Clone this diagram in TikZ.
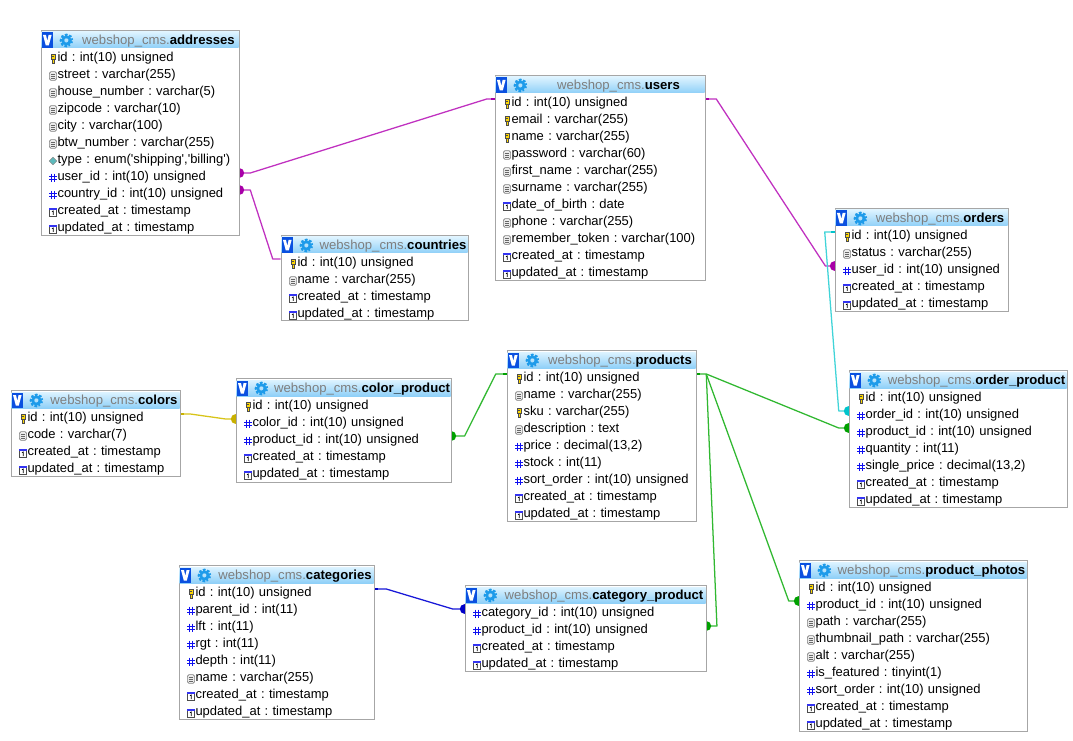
\documentclass[tikz,border=0pt]{standalone}
\usepackage{fontspec}
\setmainfont{Liberation Sans}
\usetikzlibrary{calc}
\pgfdeclarelayer{bg}
\pgfsetlayers{bg,main}
\newdimen\pxu \pxu=0.75pt
\definecolor{bordergrey}{HTML}{A6A6A6}
\definecolor{titlegrey}{HTML}{7E7E7E}
\definecolor{headtop}{HTML}{DDF3FF}
\definecolor{headbot}{HTML}{8FD0F8}
\definecolor{vblue}{HTML}{0A50E0}
\definecolor{gearblue}{HTML}{1E9BEA}
\definecolor{hashblue}{HTML}{1010F0}
\definecolor{cpurple}{HTML}{C030C0}
\definecolor{dpurple}{HTML}{A800A8}
\definecolor{ccyan}{HTML}{40D4D8}
\definecolor{dcyan}{HTML}{00C4CC}
\definecolor{cgreen}{HTML}{30B830}
\definecolor{dgreen}{HTML}{00A000}
\definecolor{cblue}{HTML}{1818D8}
\definecolor{dblue}{HTML}{0000C8}
\definecolor{cyellow}{HTML}{D8C418}
\definecolor{dyellow}{HTML}{C8B000}
\tikzset{
  tablebox/.style={draw=bordergrey,line width=0.9pt,fill=white,rectangle,inner sep=0pt,anchor=north west},
  tabletitle/.style={inner sep=0pt,font=\fontsize{9.85pt}{12pt}\selectfont\frenchspacing},
  rowtext/.style={inner xsep=0pt,inner ysep=0pt,align=left,text height=11pt,text depth=0pt,font=\fontsize{9.72pt}{12pt}\selectfont\frenchspacing},
  link/.style={line width=0.95pt,line join=round},
}
% icons, local coordinates in pixels, origin at the icon centre
\newcommand{\ick}{\fill[yellow!75!orange,draw=black!70,line width=.4pt] (-2,-4.4) rectangle (2,0.6);
  \fill[yellow!75!orange,draw=black!70,line width=.4pt] (-1.1,0.6) rectangle (1.1,4.4);
  \fill[black!70] (-.7,-3) rectangle (.7,-1.8);}
\newcommand{\icd}{\draw[black!50,fill=black!8,line width=.5pt,rounded corners=1.2pt] (-3.6,-4.4) rectangle (3.6,4.4);
  \foreach \yy in {-2.1,0,2.1}{\draw[black!60,line width=.45pt] (-2.3,\yy) -- (2.3,\yy);}}
\newcommand{\ich}{\draw[hashblue,line width=.8pt] (-3.8,-1.7) -- (3.8,-1.7) (-3.8,1.7) -- (3.8,1.7) (-1.7,-4.4) -- (-1.7,4.4) (1.7,-4.4) -- (1.7,4.4);}
\newcommand{\ict}{\fill[white,draw=black!70,line width=.4pt] (-3.4,-3.8) rectangle (3.4,4.2);
  \fill[hashblue!85!white] (-3.7,-4.4) rectangle (3.7,-2.2);
  \draw[black,line width=.55pt] (-1,-.4) -- (.3,-1.1) -- (.3,3);}
\newcommand{\ice}{\fill[ccyan!80!black!80,draw=black!45,line width=.4pt] (0,-3.8) -- (3.8,0) -- (0,3.8) -- (-3.8,0) -- cycle;}
% \dbtable{name}{x}{y}{w}{h}{table}{rows}
\newcommand{\dbtable}[7]{%
  \node[tablebox,minimum width=#4\pxu,minimum height=#5\pxu] (#1box) at (#2,#3) {};
  \shade[top color=headtop,bottom color=headbot] ({#2+.5},{#3+2}) rectangle ({#2+#4-.5},{#3+18});
  \fill[vblue] ({#2+.5},{#3+2.5}) rectangle ({#2+12},{#3+18});
  \fill[white] ({#2+2},{#3+5}) -- ({#2+5},{#3+5}) -- ({#2+6.3},{#3+11}) -- ({#2+7.6},{#3+5}) -- ({#2+10.6},{#3+5}) -- ({#2+7.8},{#3+15.5}) -- ({#2+4.8},{#3+15.5}) -- cycle;
  \draw[gearblue,line width=3.4pt,dash pattern=on 1.3pt off 1.1pt] ({#2+25.5},{#3+10.5}) circle[radius=3.4pt];
  \draw[gearblue,line width=1.8pt] ({#2+25.5},{#3+10.5}) circle[radius=2.9pt];
  \node[tabletitle] (#1title) at ({#2+#4/2+18.5},{#3+10.8}) {\textcolor{titlegrey}{webshop\_cms.}\textbf{#6}};
  \foreach \ic/\txt [count=\i] in {#7}{%
    \pgfmathsetmacro{\rowy}{#3+27+17*(\i-1)}
    \node[rowtext,text width=#4\pxu] (#1-\i) at ({#2+#4/2},{\rowy-3}) {\hspace*{12.4pt}\txt};
    \begin{scope}[shift={({#2+12},{\rowy+2})}]
      \csname ic\ic\endcsname
    \end{scope}
  }%
}
\newcommand{\manyend}[2]{\fill[#1] (#2) circle[radius=3.7pt];}
\begin{document}
\begin{tikzpicture}[x=0.75pt,y=-0.75pt]
\useasboundingbox (0,0) rectangle (1073,741);

\dbtable{addresses}{41}{30}{198}{205}{addresses}{k/{id : int(10) unsigned},d/{street : varchar(255)},d/{house\_number : varchar(5)},d/{zipcode : varchar(10)},d/{city : varchar(100)},d/{btw\_number : varchar(255)},e/{type : enum(\textquotesingle shipping\textquotesingle,\textquotesingle billing\textquotesingle)},h/{user\_id : int(10) unsigned},h/{country\_id : int(10) unsigned},t/{created\_at : timestamp},t/{updated\_at : timestamp}}

\dbtable{users}{495}{75}{210}{205}{users}{k/{id : int(10) unsigned},k/{email : varchar(255)},k/{name : varchar(255)},d/{password : varchar(60)},d/{first\_name : varchar(255)},d/{surname : varchar(255)},t/{date\_of\_birth : date},d/{phone : varchar(255)},d/{remember\_token : varchar(100)},t/{created\_at : timestamp},t/{updated\_at : timestamp}}

\dbtable{countries}{281}{235}{187}{85}{countries}{k/{id : int(10) unsigned},d/{name : varchar(255)},t/{created\_at : timestamp},t/{updated\_at : timestamp}}

\dbtable{orders}{835}{208}{173}{103}{orders}{k/{id : int(10) unsigned},d/{status : varchar(255)},h/{user\_id : int(10) unsigned},t/{created\_at : timestamp},t/{updated\_at : timestamp}}

\dbtable{orderproduct}{849}{370}{218}{137}{order\_product}{k/{id : int(10) unsigned},h/{order\_id : int(10) unsigned},h/{product\_id : int(10) unsigned},h/{quantity : int(11)},h/{single\_price : decimal(13,2)},t/{created\_at : timestamp},t/{updated\_at : timestamp}}

\dbtable{products}{507}{350}{189}{171}{products}{k/{id : int(10) unsigned},d/{name : varchar(255)},k/{sku : varchar(255)},d/{description : text},h/{price : decimal(13,2)},h/{stock : int(11)},h/{sort\_order : int(10) unsigned},t/{created\_at : timestamp},t/{updated\_at : timestamp}}

\dbtable{colors}{11}{390}{169}{86}{colors}{k/{id : int(10) unsigned},d/{code : varchar(7)},t/{created\_at : timestamp},t/{updated\_at : timestamp}}

\dbtable{colorproduct}{236}{378}{215}{104}{color\_product}{k/{id : int(10) unsigned},h/{color\_id : int(10) unsigned},h/{product\_id : int(10) unsigned},t/{created\_at : timestamp},t/{updated\_at : timestamp}}

\dbtable{categories}{179}{565}{195}{154}{categories}{k/{id : int(10) unsigned},h/{parent\_id : int(11)},h/{lft : int(11)},h/{rgt : int(11)},h/{depth : int(11)},d/{name : varchar(255)},t/{created\_at : timestamp},t/{updated\_at : timestamp}}

\dbtable{categoryproduct}{465}{585}{241}{86}{category\_product}{h/{category\_id : int(10) unsigned},h/{product\_id : int(10) unsigned},t/{created\_at : timestamp},t/{updated\_at : timestamp}}

\dbtable{productphotos}{799}{560}{228}{171}{product\_photos}{k/{id : int(10) unsigned},h/{product\_id : int(10) unsigned},d/{path : varchar(255)},d/{thumbnail\_path : varchar(255)},d/{alt : varchar(255)},h/{is\_featured : tinyint(1)},h/{sort\_order : int(10) unsigned},t/{created\_at : timestamp},t/{updated\_at : timestamp}}

\begin{pgfonlayer}{bg}
  \fill[white] (0,0) rectangle (1073,741);
  % purple
  \draw[link,cpurple] (addresses-8.east) -- ++(11,0) -- ([xshift=-6pt]users-1.west) -- (users-1.west);
  \manyend{dpurple}{addresses-8.east}
  \fill[dpurple] ([xshift=-3pt,yshift=-1.1pt]users-1.west) rectangle ([yshift=1.1pt]users-1.west);
  \draw[link,cpurple] (addresses-9.east) -- ++(11,0) -- ([xshift=-6pt]countries-1.west) -- (countries-1.west);
  \manyend{dpurple}{addresses-9.east}
  \draw[link,cpurple] (users-1.east) -- ++(11,0) -- ([xshift=-7pt]orders-3.west) -- (orders-3.west);
  \fill[dpurple] ([yshift=-1.1pt]users-1.east) rectangle ([xshift=3pt,yshift=1.1pt]users-1.east);
  \manyend{dpurple}{orders-3.west}
  % cyan
  \draw[link,ccyan] (orders-1.west) -- ++(-10,0) -- ([xshift=-7.5pt]orderproduct-2.west) -- (orderproduct-2.west);
  \fill[dcyan] ([xshift=-3pt,yshift=-1.1pt]orders-1.west) rectangle ([yshift=1.1pt]orders-1.west);
  \manyend{dcyan}{orderproduct-2.west}
  % yellow
  \draw[link,cyellow] (colors-1.east) -- ++(10,0) -- ([xshift=-7.5pt]colorproduct-2.west) -- (colorproduct-2.west);
  \fill[dyellow] ([yshift=-1.1pt]colors-1.east) rectangle ([xshift=3pt,yshift=1.1pt]colors-1.east);
  \manyend{dyellow}{colorproduct-2.west}
  % green
  \draw[link,cgreen] (products-1.west) -- ++(-11,0) -- ([xshift=10pt]colorproduct-3.east) -- (colorproduct-3.east);
  \fill[dgreen] ([xshift=-3pt,yshift=-1.1pt]products-1.west) rectangle ([yshift=1.1pt]products-1.west);
  \manyend{dgreen}{colorproduct-3.east}
  \draw[link,cgreen] (products-1.east) -- ++(10,0) coordinate (fork) -- ([xshift=-7.5pt]orderproduct-3.west) -- (orderproduct-3.west);
  \draw[link,cgreen] (fork) -- ([xshift=8pt]categoryproduct-2.east) -- (categoryproduct-2.east);
  \draw[link,cgreen] (fork) -- ([xshift=-7.5pt]productphotos-2.west) -- (productphotos-2.west);
  \fill[dgreen] ([yshift=-1.1pt]products-1.east) rectangle ([xshift=3pt,yshift=1.1pt]products-1.east);
  \manyend{dgreen}{orderproduct-3.west}
  \manyend{dgreen}{categoryproduct-2.east}
  \manyend{dgreen}{productphotos-2.west}
  % blue
  \draw[link,cblue] (categories-1.east) -- ++(12,0) -- ([xshift=-9pt]categoryproduct-1.west) -- (categoryproduct-1.west);
  \fill[dblue] ([yshift=-1.1pt]categories-1.east) rectangle ([xshift=3pt,yshift=1.1pt]categories-1.east);
  \manyend{dblue}{categoryproduct-1.west}
\end{pgfonlayer}
\end{tikzpicture}
\end{document}
